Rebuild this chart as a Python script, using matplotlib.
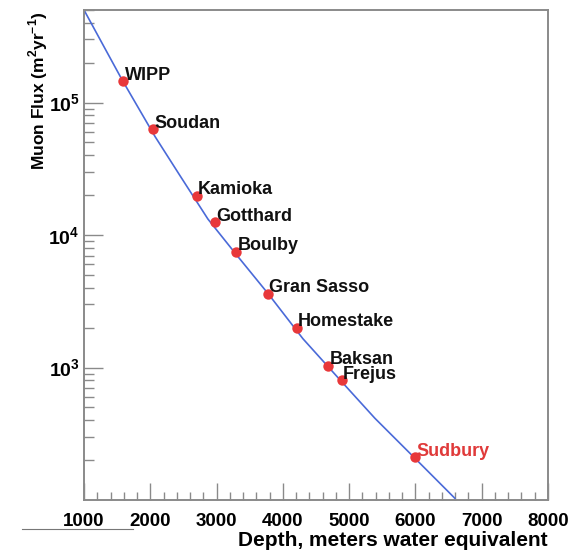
import matplotlib
matplotlib.use('Agg')

import matplotlib.pyplot as plt
from matplotlib.lines import Line2D
from matplotlib.ticker import FixedLocator, LogLocator, NullFormatter, MultipleLocator


# underground labs, depth (m.w.e.) and muon flux
LABS = ['WIPP', 'Soudan', 'Kamioka', 'Gotthard', 'Boulby',
        'Gran Sasso', 'Homestake', 'Baksan', 'Frejus', 'Sudbury']
DEPTH = [1590, 2040, 2700, 2970, 3300, 3770, 4210, 4680, 4890, 5990]
FLUX = [1.45e5, 6.3e4, 1.98e4, 1.25e4, 7.5e3, 3.6e3, 2.0e3, 1.03e3, 8.0e2, 2.1e2]

# fit curve
FIT_DEPTH = [1000, 1300, 1573, 2071, 2450, 2870, 3300, 3780, 4303, 4850, 5389, 6000, 6596]
FIT_FLUX = [5.0e5, 2.65e5, 1.49e5, 5.55e4, 2.8e4, 1.32e4, 7.1e3, 3.6e3, 1.65e3, 8.2e2, 414, 205, 103]

X_TICKS = [1000, 2000, 3000, 4000, 5000, 6000, 7000, 8000]
Y_TICKS = [1e3, 1e4, 1e5]
Y_TICK_LABELS = [r'$\mathbf{10^{3}}$', r'$\mathbf{10^{4}}$', r'$\mathbf{10^{5}}$']

FRAME = '#8a8a8a'
TEXT_FONT = 'Liberation Sans'


def main():
    plt.rcParams['font.family'] = [TEXT_FONT, 'DejaVu Sans']
    plt.rcParams['mathtext.fontset'] = 'custom'
    plt.rcParams['mathtext.rm'] = TEXT_FONT + ':bold'
    plt.rcParams['mathtext.bf'] = TEXT_FONT + ':bold'

    fig = plt.figure(figsize=(5.81, 5.5), dpi=100)
    ax = fig.add_axes([0.1446, 0.0909, 0.7985, 0.8909])

    ax.plot(FIT_DEPTH, FIT_FLUX, color='#4a6ad8', linewidth=1.2, zorder=2)
    ax.plot(DEPTH, FLUX, linestyle='none', marker='o', markersize=7.5,
            color='#e8383a', markeredgewidth=0, zorder=3)

    for name, d, f in zip(LABS, DEPTH, FLUX):
        color = '#e03a3a' if name == 'Sudbury' else '#111111'
        ax.annotate(name, xy=(d, f), xytext=(1.0, 1.2), textcoords='offset points',
                    ha='left', va='baseline', fontsize=13, fontweight='bold',
                    color=color, zorder=4)

    ax.set_yscale('log')
    ax.set_xlim(1000, 8000)
    ax.set_ylim(100, 5.0e5)

    ax.xaxis.set_major_locator(FixedLocator(X_TICKS))
    ax.xaxis.set_minor_locator(MultipleLocator(200))
    ax.set_xticklabels([str(t) for t in X_TICKS])
    ax.yaxis.set_major_locator(FixedLocator(Y_TICKS))
    ax.yaxis.set_minor_locator(LogLocator(base=10, subs=range(2, 10)))
    ax.yaxis.set_minor_formatter(NullFormatter())
    ax.set_yticklabels(Y_TICK_LABELS)

    ax.tick_params(axis='both', which='both', direction='in', color=FRAME,
                   top=False, right=False)
    ax.tick_params(axis='x', which='major', length=12, width=1, pad=9, labelsize=13.5)
    ax.tick_params(axis='x', which='minor', length=6, width=1)
    ax.tick_params(axis='y', which='major', length=14, width=1, pad=3, labelsize=14)
    ax.tick_params(axis='y', which='minor', length=7, width=1)
    for lab in ax.get_xticklabels():
        lab.set_fontweight('bold')

    for side in ax.spines.values():
        side.set_color(FRAME)
        side.set_linewidth(1.4)

    ax.set_xlabel('Depth, meters water equivalent', loc='right',
                  fontsize=15, fontweight='bold', labelpad=1)
    ax.set_ylabel(r'Muon Flux (m$^{2}$yr$^{-1}$)', loc='top',
                  fontsize=12.5, fontweight='bold')
    ax.yaxis.set_label_coords(-0.074, 0.996)

    # stray rule under the first tick label
    fig.add_artist(Line2D([22 / 581, 133 / 581], [21 / 550, 21 / 550],
                          color='#777777', linewidth=0.8))

    fig.savefig('out.png', dpi=100)


if __name__ == '__main__':
    main()
